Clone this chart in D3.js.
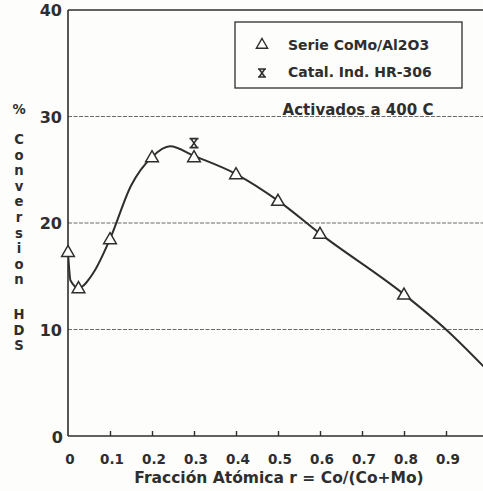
<!DOCTYPE html>
<html>
<head>
<meta charset="utf-8" />
<script src="https://cdn.jsdelivr.net/npm/d3@7"></script>
<style>
    body {
        margin: 0;
        background: #fdfdfb;
    }
    svg text {
        font-family: "DejaVu Sans", "Liberation Sans", Arial, sans-serif;
        font-weight: bold;
        fill: #2e2e2e;
    }
</style>
</head>
<body>
<div id="chart"></div>
<script>
// measured points, Serie CoMo/Al2O3
const serieX = [0, 0.025, 0.1, 0.2, 0.3, 0.4, 0.5, 0.6, 0.8];
const serieY = [17.3, 13.9, 18.5, 26.2, 26.2, 24.6, 22.1, 19.0, 13.3];

// industrial catalyst HR-306
const hrX = [0.3];
const hrY = [27.5];

// smooth fitted curve as drawn on the figure
const fitX = [0, 0.006, 0.025, 0.06, 0.1, 0.15, 0.2, 0.243, 0.3, 0.4, 0.5, 0.6, 0.8, 0.9, 1.0];
const fitY = [17.3, 14.6, 13.9, 15.3, 18.5, 23.5, 26.2, 27.2, 26.3, 24.6, 22.1, 19.0, 13.3, 10.0, 6.1];

const xTicks = [0.1, 0.2, 0.3, 0.4, 0.5, 0.6, 0.7, 0.8, 0.9];
const xTickLabels = ["0.1", "0.2", "0.3", "0.4", "0.5", "0.6", "0.7", "0.8", "0.9"];
const yTicks = [0, 10, 20, 30, 40];
const gridY = [10, 20, 30];

// vertical title, one letter per line, three word blocks
const yTitleWords = [["%"], ["C", "o", "n", "v", "e", "r", "s", "i", "o", "n"], ["H", "D", "S"]];
const yTitleStart = [114, 144, 319];

const W = 483, H = 491;
const ink = "#2e2e2e";

const x = d3.scaleLinear().domain([0, 1]).range([68, 488]);
const y = d3.scaleLinear().domain([0, 40]).range([436, 10]);

const svg = d3.select("#chart")
    .append("svg")
    .attr("width", W)
    .attr("height", H);

svg.append("defs").append("clipPath")
    .attr("id", "plotclip")
    .append("rect")
    .attr("x", x(0)).attr("y", 0)
    .attr("width", W - x(0)).attr("height", H);

// grid lines
svg.selectAll(".grid")
    .data(gridY)
    .enter()
    .append("line")
    .attr("x1", x(0)).attr("x2", W)
    .attr("y1", d => y(d)).attr("y2", d => y(d))
    .attr("stroke", "#6a6a6a")
    .attr("stroke-width", 1)
    .attr("stroke-dasharray", "4,1.5");

// frame: left, top
svg.append("line")
    .attr("x1", x(0)).attr("x2", x(0))
    .attr("y1", y(40)).attr("y2", y(0))
    .attr("stroke", ink).attr("stroke-width", 1.6);
svg.append("line")
    .attr("x1", x(0)).attr("x2", W)
    .attr("y1", y(40)).attr("y2", y(40))
    .attr("stroke", ink).attr("stroke-width", 1.6);

// bottom axis with inward ticks
const xAxis = svg.append("g")
    .attr("transform", `translate(0,${y(0)})`)
    .call(d3.axisTop(x).tickValues(xTicks).tickSize(5).tickFormat(""));
xAxis.select(".domain").remove();
xAxis.selectAll("line").attr("stroke", ink).attr("stroke-width", 1.4);
svg.append("line")
    .attr("x1", x(0)).attr("x2", W)
    .attr("y1", y(0)).attr("y2", y(0))
    .attr("stroke", ink).attr("stroke-width", 1.6);

// x tick labels
svg.selectAll(".xl")
    .data([0].concat(xTicks))
    .enter()
    .append("text")
    .attr("x", d => x(d) + 2)
    .attr("y", 464)
    .attr("text-anchor", "middle")
    .style("font-size", "13.5px")
    .text((d, i) => i === 0 ? "0" : xTickLabels[i - 1]);

// y tick labels
svg.selectAll(".yl")
    .data(yTicks)
    .enter()
    .append("text")
    .attr("x", d => d === 0 ? 63 : 62)
    .attr("y", d => y(d) + (d === 0 ? 7 : 6))
    .attr("text-anchor", "end")
    .style("font-size", "16px")
    .text(d => d);

// fitted curve
const line = d3.line()
    .x((d, i) => x(fitX[i]))
    .y((d, i) => y(fitY[i]))
    .curve(d3.curveMonotoneX);

svg.append("path")
    .datum(fitX)
    .attr("clip-path", "url(#plotclip)")
    .attr("fill", "none")
    .attr("stroke", ink)
    .attr("stroke-width", 2)
    .attr("d", line);

// triangle markers
const tri = d3.symbol().type(d3.symbolTriangle).size(70);
svg.selectAll(".tri")
    .data(serieX)
    .enter()
    .append("path")
    .attr("d", tri)
    .attr("transform", (d, i) => `translate(${x(d)},${y(serieY[i]) + 1})`)
    .attr("fill", "#fdfdfb")
    .attr("stroke", ink)
    .attr("stroke-width", 1.5);

// hourglass marker
function hourglass(s) {
    return `M${-s},${-s}H${s}M${-s},${s}H${s}M${-s * 0.7},${-s}L${s * 0.7},${s}M${s * 0.7},${-s}L${-s * 0.7},${s}`;
}
svg.selectAll(".hr")
    .data(hrX)
    .enter()
    .append("path")
    .attr("d", hourglass(4.5))
    .attr("transform", (d, i) => `translate(${x(d)},${y(hrY[i])})`)
    .attr("fill", "none")
    .attr("stroke", ink)
    .attr("stroke-width", 1.7);

// legend
svg.append("rect")
    .attr("x", 235).attr("y", 22)
    .attr("width", 227).attr("height", 66)
    .attr("fill", "none")
    .attr("stroke", ink)
    .attr("stroke-width", 1.3);
svg.append("path")
    .attr("d", d3.symbol().type(d3.symbolTriangle).size(55))
    .attr("transform", "translate(262,45)")
    .attr("fill", "none")
    .attr("stroke", ink)
    .attr("stroke-width", 1.4);
svg.append("path")
    .attr("d", hourglass(4))
    .attr("transform", "translate(262,73)")
    .attr("fill", "none")
    .attr("stroke", ink)
    .attr("stroke-width", 1.6);
svg.append("text")
    .attr("x", 288).attr("y", 50)
    .style("font-size", "14px")
    .text("Serie CoMo/Al2O3");
svg.append("text")
    .attr("x", 288).attr("y", 77)
    .style("font-size", "14px")
    .text("Catal. Ind. HR-306");

svg.append("text")
    .attr("x", 358).attr("y", 115)
    .attr("text-anchor", "middle")
    .style("font-size", "15px")
    .text("Activados a 400 C");

// stacked y title
yTitleWords.forEach((word, w) => {
    svg.selectAll(".yt" + w)
        .data(word)
        .enter()
        .append("text")
        .attr("x", 19)
        .attr("y", (d, i) => yTitleStart[w] + i * 15.6)
        .attr("text-anchor", "middle")
        .style("font-size", "13.2px")
        .text(d => d);
});

svg.append("text")
    .attr("x", 279).attr("y", 483)
    .attr("text-anchor", "middle")
    .style("font-size", "15.5px")
    .text("Fracción Atómica r = Co/(Co+Mo)");
</script>
</body>
</html>
